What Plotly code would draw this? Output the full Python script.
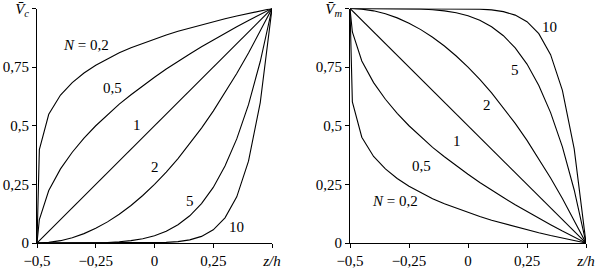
import plotly.graph_objects as go
from plotly.subplots import make_subplots

# z/h sample points
z = [-0.5, -0.49, -0.45, -0.4, -0.35, -0.3, -0.25, -0.2, -0.15, -0.1, -0.05,
     0.0, 0.05, 0.1, 0.15, 0.2, 0.25, 0.3, 0.35, 0.4, 0.45, 0.5]

# Left panel: V_c for each N
vc_02 = [0, 0.398, 0.549, 0.631, 0.684, 0.725, 0.758, 0.786, 0.811, 0.833, 0.852,
         0.871, 0.887, 0.903, 0.917, 0.931, 0.944, 0.956, 0.968, 0.979, 0.990, 1.0]
vc_05 = [0, 0.1, 0.224, 0.316, 0.387, 0.447, 0.5, 0.548, 0.592, 0.632, 0.671,
         0.707, 0.742, 0.775, 0.806, 0.837, 0.866, 0.894, 0.922, 0.949, 0.975, 1.0]
vc_1 = [0, 0.01, 0.05, 0.1, 0.15, 0.2, 0.25, 0.3, 0.35, 0.4, 0.45,
        0.5, 0.55, 0.6, 0.65, 0.7, 0.75, 0.8, 0.85, 0.9, 0.95, 1.0]
vc_2 = [0, 0.0001, 0.0025, 0.01, 0.0225, 0.04, 0.0625, 0.09, 0.1225, 0.16, 0.2025,
        0.25, 0.3025, 0.36, 0.4225, 0.49, 0.5625, 0.64, 0.7225, 0.81, 0.9025, 1.0]
vc_5 = [0, 0, 0, 0.00001, 0.00008, 0.00032, 0.00098, 0.00243, 0.00525, 0.01024, 0.01845,
        0.03125, 0.0503, 0.0778, 0.116, 0.168, 0.237, 0.328, 0.444, 0.590, 0.774, 1.0]
vc_10 = [0, 0, 0, 0, 0, 0, 0, 0, 0.00003, 0.0001, 0.00034,
         0.00098, 0.00253, 0.00605, 0.01346, 0.0282, 0.0563, 0.1074, 0.1969, 0.3487, 0.5987, 1.0]

# Right panel: V_m for each N
vm_02 = [1.0, 0.602, 0.451, 0.369, 0.316, 0.275, 0.242, 0.214, 0.189, 0.167, 0.148,
         0.129, 0.113, 0.097, 0.083, 0.069, 0.056, 0.044, 0.032, 0.021, 0.010, 0]
vm_05 = [1.0, 0.9, 0.776, 0.684, 0.613, 0.553, 0.5, 0.452, 0.408, 0.368, 0.329,
         0.293, 0.258, 0.225, 0.194, 0.163, 0.134, 0.106, 0.078, 0.051, 0.025, 0]
vm_1 = [1.0, 0.99, 0.95, 0.9, 0.85, 0.8, 0.75, 0.7, 0.65, 0.6, 0.55,
        0.5, 0.45, 0.4, 0.35, 0.3, 0.25, 0.2, 0.15, 0.1, 0.05, 0]
vm_2 = [1.0, 0.9999, 0.9975, 0.99, 0.9775, 0.96, 0.9375, 0.91, 0.8775, 0.84, 0.7975,
        0.75, 0.6975, 0.64, 0.5775, 0.51, 0.4375, 0.36, 0.2775, 0.19, 0.0975, 0]
vm_5 = [1.0, 1.0, 1.0, 0.99999, 0.99992, 0.99968, 0.99902, 0.99757, 0.99475, 0.98976, 0.98155,
        0.96875, 0.9497, 0.9222, 0.884, 0.832, 0.763, 0.672, 0.556, 0.410, 0.226, 0]
vm_10 = [1.0, 1.0, 1.0, 1.0, 1.0, 1.0, 1.0, 1.0, 0.99997, 0.9999, 0.99966,
         0.99902, 0.99747, 0.99395, 0.98654, 0.9718, 0.9437, 0.8926, 0.8031, 0.6513, 0.4013, 0]

left_series = [vc_02, vc_05, vc_1, vc_2, vc_5, vc_10]
right_series = [vm_02, vm_05, vm_1, vm_2, vm_5, vm_10]

x_tickvals = [-0.5, -0.25, 0, 0.25, 0.5]
x_ticktext = ["\u22120,5", "\u22120,25", "0", "0,25", "<i>z/h</i>"]
y_tickvals = [0, 0.25, 0.5, 0.75, 1.0]
y_ticktext_left = ["0", "0,25", "0,5", "0,75", "<i>V\u0304</i><sub><i>c</i></sub>"]
y_ticktext_right = ["0", "0,25", "0,5", "0,75", "<i>V\u0304</i><sub><i>m</i></sub>"]

left_labels = [("<i>N</i> = 0,2", -0.291, 0.844), ("0,5", -0.177, 0.661), ("1", -0.074, 0.503),
               ("2", 0.002, 0.324), ("5", 0.151, 0.179), ("10", 0.351, 0.068)]
right_labels = [("10", 0.347, 0.921), ("5", 0.199, 0.738), ("2", 0.081, 0.588),
                ("1", -0.047, 0.435), ("0,5", -0.195, 0.328), ("<i>N</i> = 0,2", -0.309, 0.179)]

FONT = "Liberation Serif"

fig = make_subplots(rows=1, cols=2)
for s in left_series:
    fig.add_trace(go.Scatter(x=z, y=s, mode="lines", line=dict(color="black", width=1.1),
                             showlegend=False), row=1, col=1)
for s in right_series:
    fig.add_trace(go.Scatter(x=z, y=s, mode="lines", line=dict(color="black", width=1.1),
                             showlegend=False), row=1, col=2)

for t, xv, yv in left_labels:
    fig.add_annotation(x=xv, y=yv, xref="x", yref="y", text=t, showarrow=False,
                       font=dict(family=FONT, size=15, color="black"))
for t, xv, yv in right_labels:
    fig.add_annotation(x=xv, y=yv, xref="x2", yref="y2", text=t, showarrow=False,
                       font=dict(family=FONT, size=15, color="black"))

axis_common = dict(showgrid=False, zeroline=False, showline=True, linecolor="black", linewidth=1,
                   ticks="outside", ticklen=4, tickcolor="black", tickwidth=1, automargin=False,
                   tickfont=dict(family=FONT, size=15, color="black"))

fig.update_xaxes(range=[-0.5, 0.5], tickvals=x_tickvals, ticktext=x_ticktext, **axis_common)
fig.update_yaxes(range=[0, 1.0], tickvals=y_tickvals, **axis_common)
fig.update_yaxes(ticktext=y_ticktext_left, row=1, col=1)
fig.update_yaxes(ticktext=y_ticktext_right, row=1, col=2)

fig.update_layout(
    width=597, height=268,
    margin=dict(l=0, r=0, t=0, b=0),
    paper_bgcolor="white", plot_bgcolor="white",
    xaxis=dict(domain=[37 / 597, 272 / 597]),
    xaxis2=dict(domain=[350 / 597, 586 / 597]),
    yaxis=dict(domain=[25 / 268, 259.5 / 268]),
    yaxis2=dict(domain=[25 / 268, 259.5 / 268]),
    font=dict(family=FONT, color="black"),
)

fig.write_html("out.html", config={"displayModeBar": False},
               post_script="document.body.style.margin='0';document.body.style.overflow='hidden';")
